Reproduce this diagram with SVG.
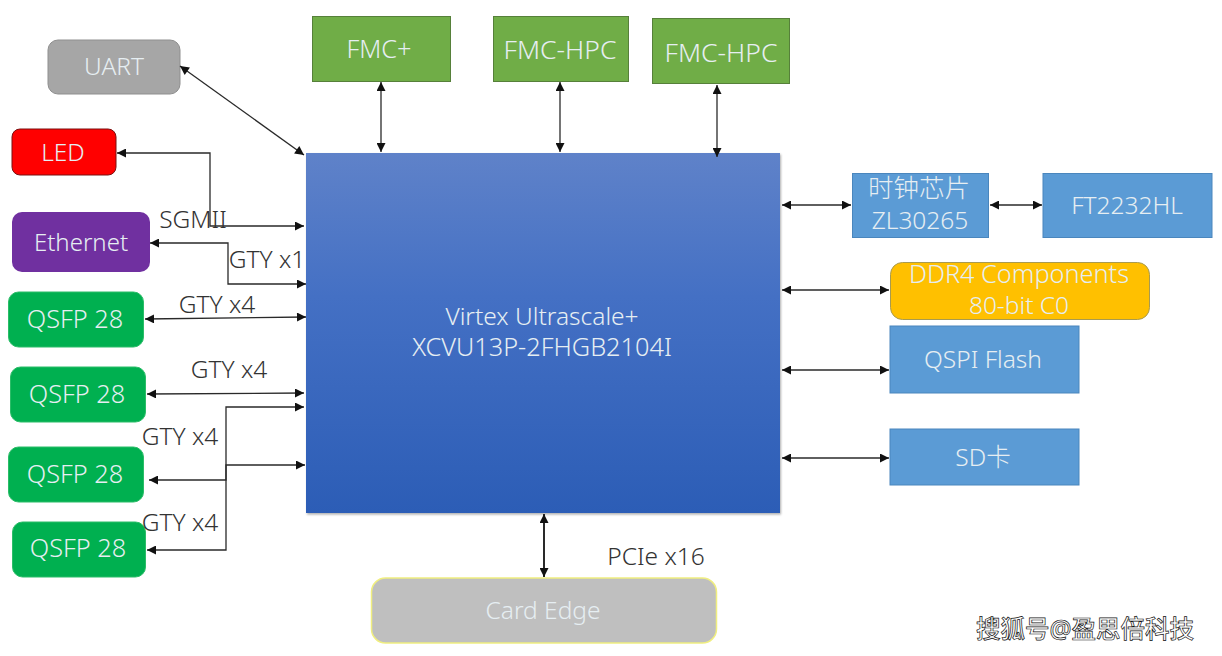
<svg xmlns="http://www.w3.org/2000/svg" width="1222" height="656" viewBox="0 0 1222 656">
<style>
text{font-family:"Noto Sans","Noto Sans CJK SC",sans-serif;font-size:24.500px;text-anchor:middle;font-weight:300}
.w{fill:#e6eef2}.d{fill:#333}
.l{font-size:25.300px}
.c{fill:none;stroke:#2a2a2a;stroke-width:1.300}
.b{fill:#5b9bd5;stroke:#4a86bd;stroke-width:1}
.g{fill:#70ad47;stroke:#56803a;stroke-width:1}
.q{fill:#00b050;stroke:#2bbd68;stroke-width:1}
</style>
<defs>
<marker id="a" viewBox="0 0 10 10" refX="10" refY="5" markerWidth="10" markerHeight="9" markerUnits="userSpaceOnUse" orient="auto-start-reverse"><path d="M0 0L10 5L0 10z" fill="#111"/></marker>
<linearGradient id="m" x1="0" y1="0" x2="0" y2="1"><stop offset="0" stop-color="#5f82c9"/><stop offset="0.4" stop-color="#4470c4"/><stop offset="1" stop-color="#2c5db6"/></linearGradient>
<filter id="s" x="-5%" y="-5%" width="110%" height="110%"><feGaussianBlur stdDeviation="1.200"/></filter>
</defs>
<rect width="1222" height="656" fill="#fff"/>
<g id="main"><rect x="306" y="153" width="474" height="360" fill="#777" opacity=".6" filter="url(#s)" transform="translate(1 1.500)"/><rect x="306" y="153" width="474" height="360" fill="url(#m)"/>
<text class="w" x="542" y="325">Virtex Ultrascale+</text><text class="w l" x="542" y="356">XCVU13P-2FHGB2104I</text></g>
<g id="uart"><rect x="48" y="40" width="132" height="54" rx="10" fill="#a6a6a6" stroke="#8f8f8f"/><text class="w" x="114" y="75">UART</text></g>
<g id="fmc1"><rect class="g" x="312.500" y="16.500" width="138" height="65"/><text class="w l" x="379" y="58">FMC+</text></g>
<g id="fmc2"><rect class="g" x="493.500" y="16.500" width="135" height="65"/><text class="w" style="font-size:26.500px" x="560" y="59">FMC-HPC</text></g>
<g id="fmc3"><rect class="g" x="652.500" y="18.500" width="137" height="65"/><text class="w" style="font-size:26.500px" x="721" y="62">FMC-HPC</text></g>
<g id="led"><rect x="12" y="129" width="104" height="46" rx="8" fill="#f00" stroke="#7a1010"/><text class="w" x="63" y="161">LED</text></g>
<g id="eth"><rect x="12" y="212" width="138" height="60" rx="10" fill="#7030a0"/><text class="w" style="font-size:24px" x="81" y="251">Ethernet</text></g>
<g id="q1"><rect class="q" x="8.500" y="292" width="135" height="55" rx="10"/><text class="w l" x="75" y="328">QSFP 28</text></g>
<g id="q2"><rect class="q" x="10.500" y="367" width="135" height="55" rx="10"/><text class="w l" x="77" y="403">QSFP 28</text></g>
<g id="q3"><rect class="q" x="8.500" y="447" width="135" height="55" rx="10"/><text class="w l" x="75" y="483">QSFP 28</text></g>
<g id="q4"><rect class="q" x="12.500" y="522" width="133" height="55" rx="10"/><text class="w l" x="78" y="557">QSFP 28</text></g>
<g id="clock"><rect class="b" x="852.500" y="173.500" width="136" height="64"/><text class="w" style="font-size:25.500px" x="919" y="197">时钟芯片</text><text class="w" x="920" y="229">ZL30265</text></g>
<g id="ft"><rect class="b" x="1043" y="173.500" width="169" height="64"/><text class="w" x="1127" y="214">FT2232HL</text></g>
<g id="ddr"><rect x="890.500" y="262.500" width="259" height="57" rx="12" fill="#ffc000" stroke="#a89a50"/><text class="w l" x="1019" y="283">DDR4 Components</text><text class="w" x="1019" y="314">80-bit C0</text></g>
<g id="qspi"><rect class="b" x="890" y="326" width="189" height="67"/><text class="w" x="983" y="368">QSPI Flash</text></g>
<g id="sd"><rect class="b" x="890" y="429" width="189" height="56"/><text class="w" x="983" y="466">SD卡</text></g>
<g id="card"><rect x="371.500" y="578" width="345" height="65" rx="14" fill="#bfbfbf" stroke="#f0ee80" stroke-width="1.500"/><text class="w" x="543" y="619">Card Edge</text></g>
<g id="connectors">
<path class="c" marker-start="url(#a)" marker-end="url(#a)" d="M180 66L304 155"/>
<path class="c" marker-start="url(#a)" marker-end="url(#a)" d="M381 82V152"/>
<path class="c" marker-start="url(#a)" marker-end="url(#a)" d="M560 82V152"/>
<path class="c" marker-start="url(#a)" marker-end="url(#a)" d="M717 85V157"/>
<path class="c" marker-start="url(#a)" marker-end="url(#a)" d="M117 153H210V226H304"/>
<path class="c" marker-start="url(#a)" marker-end="url(#a)" d="M150 243H228V284H306"/>
<path class="c" marker-start="url(#a)" marker-end="url(#a)" d="M145 319L306 317"/>
<path class="c" marker-start="url(#a)" marker-end="url(#a)" d="M147 394L304 393"/>
<path class="c" marker-start="url(#a)" marker-end="url(#a)" d="M149 480H226V465H305"/>
<path class="c" marker-start="url(#a)" marker-end="url(#a)" d="M147 550H226V407H304"/>
<path class="c" marker-start="url(#a)" marker-end="url(#a)" d="M782 205H851"/>
<path class="c" marker-start="url(#a)" marker-end="url(#a)" d="M990 205H1042"/>
<path class="c" marker-start="url(#a)" marker-end="url(#a)" d="M782 290H889"/>
<path class="c" marker-start="url(#a)" marker-end="url(#a)" d="M782 370H889"/>
<path class="c" marker-start="url(#a)" marker-end="url(#a)" d="M782 458H889"/>
<path class="c" style="stroke-width:2" marker-start="url(#a)" marker-end="url(#a)" d="M544 514V577"/>
</g>
<g id="labels">
<text class="d" x="193" y="228">SGMII</text>
<text class="d" x="267" y="268">GTY x1</text>
<text class="d" x="217" y="313">GTY x4</text>
<text class="d" x="229" y="378">GTY x4</text>
<text class="d" x="180" y="445">GTY x4</text>
<text class="d" x="180" y="531">GTY x4</text>
<text class="d" x="656" y="565">PCIe x16</text>
<text x="1085" y="638" style="fill:#fff;stroke:#111;stroke-width:.7px;font-weight:500;font-size:24.500px">搜狐号@盈思倍科技</text>
</g>
</svg>
